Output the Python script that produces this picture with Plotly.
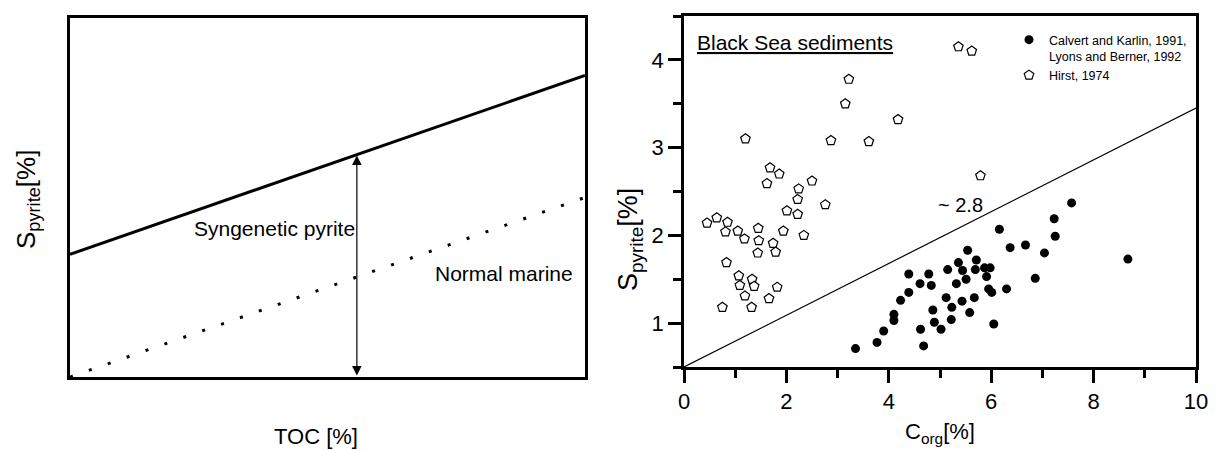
import plotly.graph_objects as go

FONT = "Liberation Sans"

# ---------------- left schematic panel ----------------
toc = [0, 10]
syngenetic_line = [3.42, 8.40]
normal_marine_line = [0.0, 5.0]
arrow_x = 5.57
arrow_top = 6.17

# ---------------- right panel data ----------------
calvert_x = [3.35, 3.77, 3.90, 4.10, 4.10, 4.23, 4.39, 4.39, 4.61, 4.78, 4.83,
             5.15, 5.36, 5.32, 5.12, 5.23, 4.86, 5.22, 4.62, 4.89, 5.02, 4.68,
             7.57, 7.23, 7.25, 6.16, 6.37, 6.67, 7.04, 6.86, 5.54, 5.71, 5.44,
             5.51, 5.69, 5.87, 5.98, 5.91, 5.95, 6.01, 6.30, 5.67, 5.43, 5.58,
             6.05, 8.67]
calvert_y = [0.71, 0.78, 0.91, 1.10, 1.03, 1.26, 1.35, 1.56, 1.45, 1.56, 1.43,
             1.61, 1.69, 1.45, 1.29, 1.18, 1.15, 1.04, 0.93, 1.01, 0.93, 0.74,
             2.37, 2.19, 1.99, 2.07, 1.86, 1.89, 1.80, 1.51, 1.83, 1.72, 1.60,
             1.50, 1.61, 1.63, 1.63, 1.53, 1.39, 1.35, 1.39, 1.29, 1.25, 1.12,
             0.99, 1.73]

hirst_x = [0.45, 0.64, 0.85, 0.81, 1.05, 1.18, 1.45, 1.46, 1.44, 1.74, 1.79,
           1.94, 2.34, 2.01, 2.22, 2.22, 2.76, 0.83, 1.07, 1.33, 1.09, 1.37,
           1.82, 1.19, 1.66, 0.75, 1.32, 1.68, 1.86, 1.62, 2.50, 2.24, 1.20,
           2.87, 5.36, 5.62, 3.22, 3.15, 4.18, 3.61, 5.79]
hirst_y = [2.14, 2.20, 2.15, 2.04, 2.05, 1.96, 2.08, 1.94, 1.80, 1.91, 1.81,
           2.05, 2.00, 2.28, 2.24, 2.41, 2.35, 1.69, 1.54, 1.50, 1.43, 1.42,
           1.41, 1.31, 1.28, 1.18, 1.18, 2.77, 2.70, 2.59, 2.62, 2.53, 3.10,
           3.08, 4.15, 4.10, 3.78, 3.50, 3.32, 3.07, 2.68]

ratio_x = [0, 10]
ratio_y = [0.5, 3.45]

x_ticks = [0, 2, 4, 6, 8, 10]
y_ticks = [1, 2, 3, 4]


def fx(px):
    """horizontal pixel -> paper fraction"""
    return px / 1215


def fy(py):
    """vertical pixel -> paper fraction"""
    return 1 - py / 450


fig = go.Figure()

# left panel lines
fig.add_trace(go.Scatter(x=toc, y=syngenetic_line, mode="lines",
                         line=dict(color="black", width=3),
                         xaxis="x", yaxis="y", showlegend=False, hoverinfo="skip"))
fig.add_trace(go.Scatter(x=toc, y=normal_marine_line, mode="lines",
                         line=dict(color="black", width=3, dash="3px,17px"),
                         xaxis="x", yaxis="y", showlegend=False, hoverinfo="skip"))

# right panel
fig.add_trace(go.Scatter(x=ratio_x, y=ratio_y, mode="lines",
                         line=dict(color="black", width=1.2),
                         xaxis="x2", yaxis="y2", showlegend=False, hoverinfo="skip"))
fig.add_trace(go.Scatter(x=calvert_x, y=calvert_y, mode="markers",
                         name="Calvert and Karlin, 1991,<br>Lyons and Berner, 1992",
                         marker=dict(symbol="circle", size=9, color="black",
                                     line=dict(width=0)),
                         xaxis="x2", yaxis="y2"))
fig.add_trace(go.Scatter(x=hirst_x, y=hirst_y, mode="markers",
                         name="Hirst, 1974",
                         marker=dict(symbol="pentagon", size=10, color="white",
                                     line=dict(width=1.2, color="black")),
                         xaxis="x2", yaxis="y2"))

L = [fx(70), fx(585)]
LY = [fy(377), fy(18)]
R = [fx(684), fx(1196)]
RY = [fy(367), fy(16)]

box = dict(showline=True, linecolor="black", linewidth=2.5, mirror=True,
           showgrid=False, zeroline=False, automargin=False)

fig.update_layout(
    width=1215, height=450,
    margin=dict(l=0, r=0, t=0, b=0, pad=0, autoexpand=False),
    paper_bgcolor="white", plot_bgcolor="white",
    font=dict(family=FONT, color="black"),
    xaxis=dict(domain=L, range=[0, 10], showticklabels=False, ticks="", **box),
    yaxis=dict(domain=LY, range=[0, 10], showticklabels=False, ticks="", **box),
    xaxis2=dict(domain=R, range=[0, 10], anchor="y2", tickvals=x_ticks,
                ticks="outside", ticklen=13, tickwidth=2.5, tickcolor="black",
                minor=dict(dtick=1, tick0=0, ticks="outside", ticklen=8,
                           tickwidth=2.5, tickcolor="black"),
                ticklabeloverflow="allow",
                tickfont=dict(size=22, family=FONT), **box),
    yaxis2=dict(domain=RY, range=[0.5, 4.5], anchor="x2", tickvals=y_ticks,
                ticks="outside", ticklen=13, tickwidth=2.5, tickcolor="black",
                minor=dict(dtick=0.5, tick0=0, ticks="outside", ticklen=8,
                           tickwidth=2.5, tickcolor="black"),
                tickfont=dict(size=22, family=FONT), **box),
    xaxis3=dict(overlaying="x2", side="top", anchor="y2", range=[0, 10],
                tickvals=x_ticks, showticklabels=False, showgrid=False,
                zeroline=False, automargin=False, ticks="inside", ticklen=13,
                tickwidth=2.5, tickcolor="black",
                minor=dict(dtick=1, tick0=0, ticks="inside", ticklen=8,
                           tickwidth=2.5, tickcolor="black")),
    yaxis3=dict(overlaying="y2", side="right", anchor="x2", range=[0.5, 4.5],
                tickvals=y_ticks, showticklabels=False, showgrid=False,
                zeroline=False, automargin=False, ticks="inside", ticklen=13,
                tickwidth=2.5, tickcolor="black",
                minor=dict(dtick=0.5, tick0=0, ticks="inside", ticklen=8,
                           tickwidth=2.5, tickcolor="black")),
    legend=dict(x=fx(1009), xanchor="left", y=fy(25), yanchor="top",
                bgcolor="rgba(0,0,0,0)", font=dict(size=12.5, family=FONT),
                valign="top", tracegroupgap=0),
    showlegend=True,
)

ann = []
# left panel annotations
ann.append(dict(x=arrow_x, y=arrow_top, ax=arrow_x, ay=0, xref="x", yref="y",
                axref="x", ayref="y", text="", showarrow=True,
                arrowhead=2, startarrowhead=2, arrowside="end+start",
                arrowsize=1.6, startarrowsize=1.6, arrowwidth=1.2,
                arrowcolor="black"))
ann.append(dict(x=3.97, y=4.13, xref="x", yref="y", text="Syngenetic pyrite",
                xanchor="center", yanchor="middle",
                showarrow=False, font=dict(size=21, family=FONT)))
ann.append(dict(x=8.43, y=2.88, xref="x", yref="y", text="Normal marine",
                xanchor="center", yanchor="middle",
                showarrow=False, font=dict(size=21, family=FONT)))
ann.append(dict(x=fx(27), y=fy(200), xref="paper", yref="paper",
                xanchor="center", yanchor="middle",
                text="S<sub>pyrite</sub>[%]", textangle=-90, showarrow=False,
                font=dict(size=26, family=FONT)))
ann.append(dict(x=fx(316), y=fy(436), xref="paper", yref="paper",
                xanchor="center", yanchor="middle",
                text="TOC [%]", showarrow=False, font=dict(size=22, family=FONT)))
# right panel annotations
ann.append(dict(x=fx(630), y=fy(240), xref="paper", yref="paper",
                xanchor="center", yanchor="middle",
                text="S<sub>pyrite</sub>[%]", textangle=-90, showarrow=False,
                font=dict(size=27, family=FONT)))
ann.append(dict(x=fx(940), y=fy(433), xref="paper", yref="paper",
                xanchor="center", yanchor="middle",
                text="C<sub>org</sub>[%]", showarrow=False,
                font=dict(size=22, family=FONT)))
ann.append(dict(x=5.4, y=2.35, xref="x2", yref="y2", text="~ 2.8",
                xanchor="center", yanchor="middle",
                showarrow=False, font=dict(size=20, family=FONT)))
ann.append(dict(x=fx(695), y=fy(42), xref="paper", yref="paper",
                xanchor="left", yanchor="middle", text="<u>Black Sea sediments</u>",
                showarrow=False, font=dict(size=21, family=FONT)))
fig.update_layout(annotations=ann)

fig.write_html("out.html")
